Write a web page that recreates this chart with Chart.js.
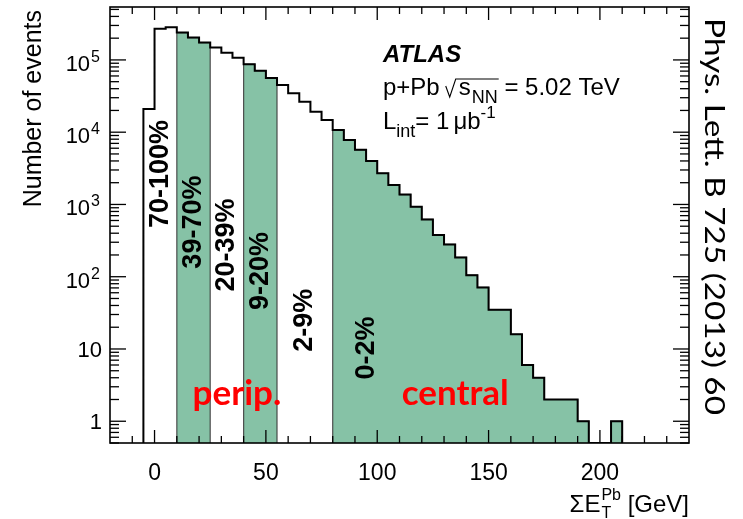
<!DOCTYPE html>
<html>
<head>
<meta charset="utf-8">
<script src="https://cdn.jsdelivr.net/npm/chart.js@4.4.0/dist/chart.umd.min.js"></script>
<style>
  html, body { margin: 0; padding: 0; background: #fff; }
  #wrap { width: 743px; height: 519px; }
</style>
</head>
<body>
<div id="wrap"><canvas id="hist"></canvas></div>
<script>
// lower edges of the 5 GeV bins and the event counts in them
const binLow = [-5, 0, 5, 10, 15, 20, 25, 30, 35, 40, 45, 50, 55, 60, 65, 70, 75, 80, 85, 90,
                95, 100, 105, 110, 115, 120, 125, 130, 135, 140, 145, 150, 155, 160, 165, 170,
                175, 180, 185, 190, 195, 200, 205];
const binWidth = 5;
const counts = [21000, 270000, 283000, 239000, 204000, 174000, 148000, 126000, 107000, 87000,
                71000, 56000, 45000, 34600, 26400, 19200, 14800, 10700, 7800, 5700,
                4000, 2700, 1860, 1370, 930, 620, 377, 280, 185, 105,
                71, 35, 35, 16, 6, 4, 2, 2, 2, 1,
                0, 0, 1];

// centrality classes
const classNames  = ['70-100%', '39-70%', '20-39%', '9-20%', '2-9%', '0-2%'];
const classLow    = [-5, 10, 25, 40, 55, 80];
const classHigh   = [10, 25, 40, 55, 80, 210];
const classShaded = [false, true, false, true, false, true];
const classLabelX = [2.5, 17.5, 32.5, 47.5, 67.5, 95];
const classLabelY = [2640, 570, 274, 120, 25, 10.3];

const regionNames = ['perip.', 'central'];
const regionX = [37, 135];
const regionY = [1.7, 1.7];

const xTickValues = [0, 50, 100, 150, 200];
const yTickValues = [1, 10, 100, 1000, 10000, 100000];
const yTickBase = ['1', '10', '10', '10', '10', '10'];
const yTickExp  = ['', '', '2', '3', '4', '5'];

const floorValue = 0.5;
const green = 'rgb(134, 194, 166)';
const fam = '"Liberation Sans", Arial, sans-serif';

function stepPoints(lo, hi) {
  const pts = [{x: lo, y: floorValue}];
  binLow.forEach((b, i) => {
    if (b >= lo && b < hi) pts.push({x: b, y: counts[i] > 0 ? counts[i] : floorValue});
  });
  pts.push({x: hi, y: floorValue});
  return pts;
}

const datasets = [{
  label: 'events',
  data: stepPoints(binLow[0], binLow[binLow.length - 1] + binWidth),
  stepped: true,
  borderColor: '#000',
  borderWidth: 2,
  pointRadius: 0,
  fill: false
}];
classNames.forEach((name, i) => {
  if (!classShaded[i]) return;
  datasets.push({
    label: name,
    data: stepPoints(classLow[i], classHigh[i]),
    stepped: true,
    borderColor: 'rgba(50, 50, 50, 0.85)',
    borderWidth: 1.2,
    backgroundColor: green,
    pointRadius: 0,
    fill: 'start'
  });
});

function runs(ctx, x, y, parts) {
  parts.forEach(p => {
    ctx.font = p.font;
    ctx.fillText(p.text, x, y + (p.dy || 0));
    x += ctx.measureText(p.text).width + (p.gap || 0);
  });
  return x;
}

const rootStyle = {
  id: 'rootStyle',
  afterDatasetsDraw(chart) {
    const {ctx, chartArea: a, scales: {x, y}} = chart;
    ctx.save();
    ctx.strokeStyle = '#000';
    ctx.lineWidth = 1.3;
    const seg = (x1, y1, x2, y2) => { ctx.beginPath(); ctx.moveTo(x1, y1); ctx.lineTo(x2, y2); ctx.stroke(); };
    for (let v = -10; v <= 230; v += 10) {
      const px = x.getPixelForValue(v);
      const len = v % 50 === 0 ? 13 : 7;
      seg(px, a.bottom, px, a.bottom - len);
      seg(px, a.top, px, a.top + len);
    }
    for (let e = -1; e <= 5; e++) {
      for (let m = 1; m <= 9; m++) {
        const v = m * Math.pow(10, e);
        if (v < y.min || v > y.max) continue;
        const py = y.getPixelForValue(v);
        const len = m === 1 ? 16 : 9;
        seg(a.left, py, a.left + len, py);
        seg(a.right, py, a.right - len, py);
      }
    }
    ctx.lineWidth = 1.6;
    ctx.strokeRect(a.left, a.top, a.right - a.left, a.bottom - a.top);
    ctx.restore();
  },
  afterDraw(chart) {
    const {ctx, chartArea: a, scales: {x, y}} = chart;
    ctx.save();
    ctx.fillStyle = '#000';

    // y tick labels with real superscripts
    ctx.textAlign = 'right';
    ctx.textBaseline = 'alphabetic';
    yTickValues.forEach((v, i) => {
      const py = y.getPixelForValue(v);
      if (yTickExp[i]) {
        ctx.font = '16px ' + fam;
        ctx.fillText(yTickExp[i], a.left - 10, py + 2);
        const ew = ctx.measureText(yTickExp[i]).width;
        ctx.font = '22px ' + fam;
        ctx.fillText(yTickBase[i], a.left - 10 - ew - 1, py + 11);
      } else {
        ctx.font = '22px ' + fam;
        ctx.fillText(yTickBase[i], a.left - 8, py + 8);
      }
    });

    // centrality class labels
    ctx.font = 'bold 27px ' + fam;
    ctx.textAlign = 'center';
    ctx.textBaseline = 'middle';
    classNames.forEach((name, i) => {
      ctx.save();
      ctx.translate(x.getPixelForValue(classLabelX[i]), y.getPixelForValue(classLabelY[i]));
      ctx.rotate(-Math.PI / 2);
      ctx.fillText(name, 0, 0);
      ctx.restore();
    });

    // perip. / central
    ctx.fillStyle = '#ff0000';
    ctx.textBaseline = 'alphabetic';
    ctx.font = 'bold 35px Lato, "Open Sans", sans-serif';
    regionNames.forEach((name, i) => {
      ctx.fillText(name, x.getPixelForValue(regionX[i]), y.getPixelForValue(regionY[i]));
    });

    // ATLAS block
    ctx.fillStyle = '#000';
    ctx.textAlign = 'left';
    const tx = 383;
    ctx.font = 'italic bold 24px ' + fam;
    ctx.fillText('ATLAS', tx, 62);

    let cx = runs(ctx, tx, 95, [{text: 'p+Pb', font: '24px ' + fam, gap: 6}]);
    ctx.lineWidth = 1.1;
    ctx.strokeStyle = '#000';
    ctx.beginPath();
    ctx.moveTo(cx, 86); ctx.lineTo(cx + 4, 97); ctx.lineTo(cx + 10, 79);
    cx = runs(ctx, cx + 13, 95, [
      {text: 's', font: '24px ' + fam, gap: 1},
      {text: 'NN', font: '18px ' + fam, dy: 8}
    ]);
    ctx.lineTo(cx + 1, 79);
    ctx.stroke();
    runs(ctx, cx, 95, [{text: ' = 5.02 TeV', font: '24px ' + fam}]);

    runs(ctx, tx, 129, [
      {text: 'L', font: '24px ' + fam},
      {text: 'int', font: '18px ' + fam, dy: 8},
      {text: '= 1', font: '24px ' + fam, gap: 4},
      {text: 'μb', font: '24px ' + fam},
      {text: '-1', font: '17px ' + fam, dy: -11}
    ]);

    // y-axis title
    ctx.save();
    ctx.translate(41, 10);
    ctx.rotate(-Math.PI / 2);
    ctx.textAlign = 'right';
    ctx.font = '25px ' + fam;
    ctx.fillText('Number of events', 0, 0);
    ctx.restore();

    // x-axis title: ΣE_T^Pb [GeV]
    ctx.font = '24px ' + fam;
    const w1 = ctx.measureText('ΣE').width;
    const w3 = ctx.measureText(' [GeV]').width;
    ctx.font = '16px ' + fam;
    const w2 = Math.max(ctx.measureText('Pb').width, ctx.measureText('T').width);
    let sx = a.right - (w1 + w2 + w3 + 1);
    ctx.font = '24px ' + fam;
    ctx.fillText('ΣE', sx, 512);
    sx += w1 + 1;
    ctx.font = '16px ' + fam;
    ctx.fillText('Pb', sx, 500);
    ctx.fillText('T', sx, 518);
    sx += w2;
    ctx.font = '24px ' + fam;
    ctx.fillText(' [GeV]', sx, 512);

    // journal reference, stretched to its length in the original
    ctx.save();
    ctx.translate(705, 18);
    ctx.rotate(Math.PI / 2);
    ctx.textAlign = 'left';
    ctx.font = '27px Lato, "Open Sans", sans-serif';
    const jref = 'Phys. Lett. B 725 (2013) 60';
    ctx.scale(397 / ctx.measureText(jref).width, 1);
    ctx.fillText(jref, 0, 0);
    ctx.restore();

    ctx.restore();
  }
};

new Chart('hist', {
  type: 'line',
  data: { datasets: datasets },
  options: {
    responsive: true,
    maintainAspectRatio: false,
    animation: false,
    layout: { padding: { left: 0, right: 54, top: 7, bottom: 0 } },
    plugins: { legend: { display: false }, tooltip: { enabled: false } },
    scales: {
      x: {
        type: 'linear',
        min: -20,
        max: 240,
        grid: { display: false },
        border: { display: false },
        afterBuildTicks: s => { s.ticks = xTickValues.map(v => ({ value: v })); },
        afterFit: s => { s.height = 76; s.paddingLeft = 0; s.paddingRight = 0; },
        ticks: {
          color: '#000',
          padding: 9,
          maxRotation: 0,
          autoSkip: false,
          font: { family: fam, size: 23 }
        }
      },
      y: {
        type: 'logarithmic',
        min: floorValue,
        max: 5.4e5,
        grid: { display: false },
        border: { display: false },
        afterBuildTicks: s => { s.ticks = yTickValues.map(v => ({ value: v })); },
        afterFit: s => { s.width = 110; s.paddingTop = 0; s.paddingBottom = 0; },
        ticks: { display: false }
      }
    }
  },
  plugins: [rootStyle]
});
</script>
</body>
</html>
